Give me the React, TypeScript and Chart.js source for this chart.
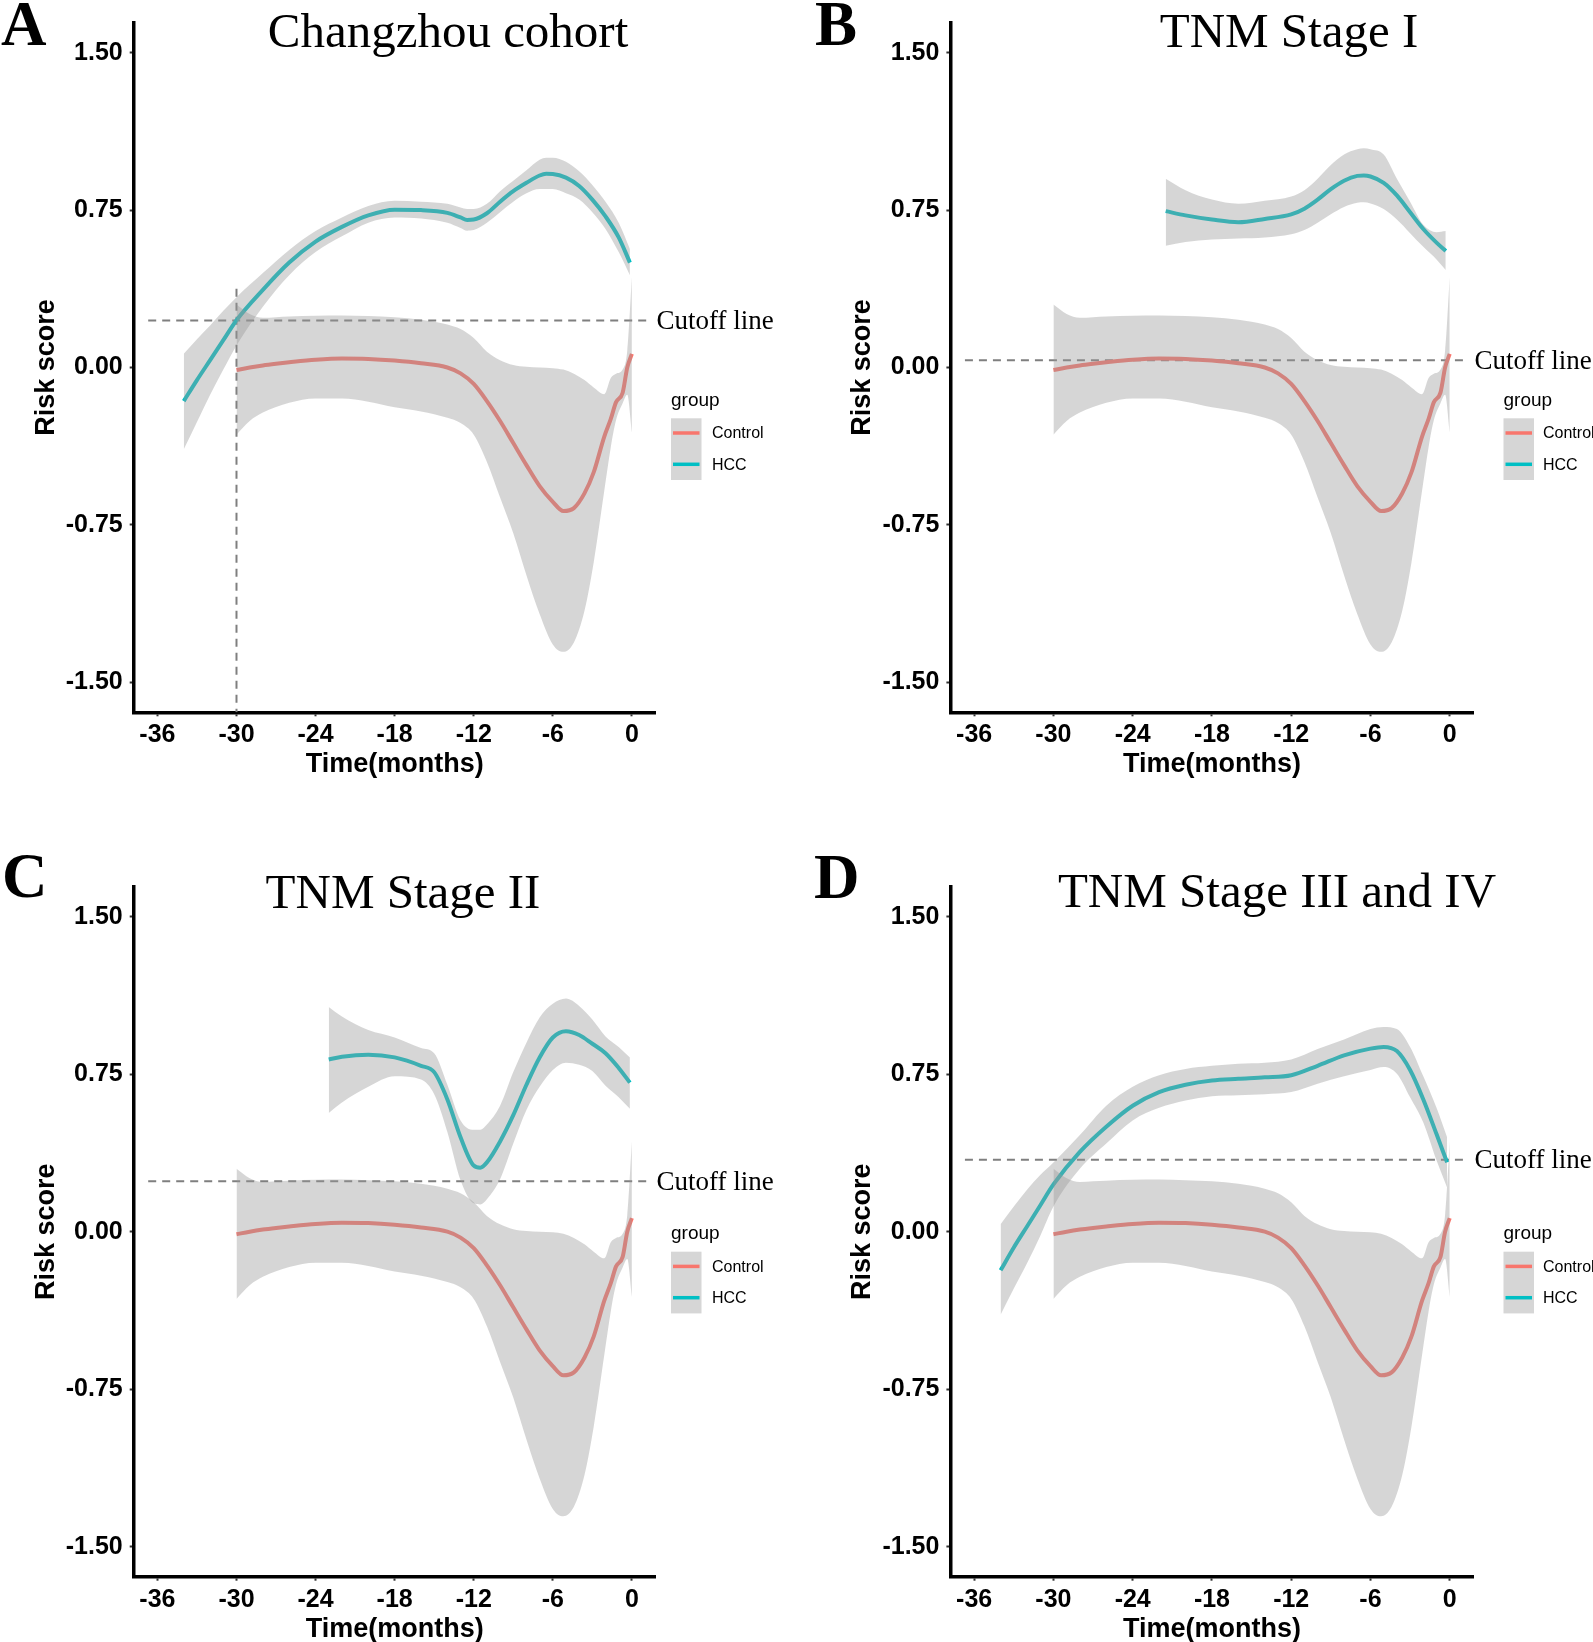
import React, { useEffect, useRef } from "react";
import { Chart, registerables } from "chart.js";
Chart.register(...registerables);

// ---------- axes ----------
const X_TICKS = [-36, -30, -24, -18, -12, -6, 0];
const Y_TICKS = [-1.5, -0.75, 0, 0.75, 1.5];
const X_MIN = -37.8;
const X_MAX = 1.8;
const Y_MIN = -1.643;
const Y_MAX = 1.643;

// ---------- Control group (same in all panels) ----------
const controlMonths = [-30, -29, -28, -27, -26, -24, -22, -20, -18, -16, -14, -13, -12, -11, -10, -9, -8, -7, -6, -5.2, -4.4, -3.6, -2.9, -2.1, -1.6, -1.2, -0.7, -0.35, 0];
const controlFit = [-0.012, 0.0, 0.01, 0.018, 0.025, 0.037, 0.043, 0.041, 0.033, 0.02, 0.0, -0.028, -0.078, -0.16, -0.255, -0.36, -0.465, -0.565, -0.64, -0.684, -0.67, -0.6, -0.5, -0.33, -0.245, -0.165, -0.12, 0.0, 0.065];
const controlUpper = [0.3, 0.255, 0.237, 0.24, 0.243, 0.247, 0.248, 0.245, 0.24, 0.228, 0.205, 0.183, 0.14, 0.075, 0.035, 0.012, 0.003, 0.0, -0.003, -0.01, -0.03, -0.06, -0.095, -0.127, -0.05, -0.03, -0.01, 0.08, 0.43];
const controlLower = [-0.32, -0.255, -0.215, -0.188, -0.168, -0.148, -0.148, -0.163, -0.19, -0.21, -0.24, -0.265, -0.32, -0.45, -0.62, -0.79, -0.99, -1.175, -1.32, -1.355, -1.31, -1.16, -0.93, -0.59, -0.38, -0.25, -0.17, -0.13, -0.31];

// ---------- HCC, panel A (Changzhou cohort) ----------
const hccAMonths = [-34, -33, -32, -31, -30, -28, -26, -24, -22, -20, -18, -16, -14, -13, -12.5, -12, -11, -10, -9, -8, -7, -6.5, -6, -5, -4, -3, -2, -1, -0.15];
const hccAFit = [-0.16, -0.06, 0.035, 0.13, 0.225, 0.37, 0.5, 0.6, 0.67, 0.725, 0.752, 0.75, 0.737, 0.715, 0.703, 0.705, 0.735, 0.79, 0.84, 0.88, 0.915, 0.923, 0.922, 0.905, 0.865, 0.8, 0.72, 0.62, 0.5];
const hccAUpper = [0.065, 0.135, 0.2, 0.27, 0.335, 0.45, 0.56, 0.65, 0.715, 0.77, 0.795, 0.79, 0.78, 0.762, 0.755, 0.755, 0.78, 0.84, 0.89, 0.94, 0.99, 1.0, 1.0, 0.98, 0.935, 0.87, 0.79, 0.69, 0.565];
const hccALower = [-0.39, -0.26, -0.13, -0.01, 0.105, 0.29, 0.44, 0.55, 0.625, 0.69, 0.715, 0.71, 0.69, 0.665, 0.652, 0.655, 0.69, 0.74, 0.79, 0.83, 0.85, 0.85, 0.85, 0.83, 0.8, 0.74, 0.66, 0.55, 0.44];

// ---------- HCC, panel B (TNM Stage I) ----------
const hccBMonths = [-21.5, -20, -18, -16, -14, -12, -11, -10, -9, -8, -7, -6.5, -6, -5, -4, -3, -2, -1, -0.3];
const hccBFit = [0.745, 0.725, 0.705, 0.692, 0.708, 0.73, 0.757, 0.8, 0.85, 0.89, 0.913, 0.915, 0.91, 0.88, 0.82, 0.74, 0.66, 0.595, 0.555];
const hccBUpper = [0.9, 0.845, 0.8, 0.78, 0.795, 0.815, 0.845, 0.9, 0.965, 1.015, 1.04, 1.045, 1.04, 1.015, 0.9, 0.79, 0.68, 0.645, 0.65];
const hccBLower = [0.58, 0.598, 0.61, 0.615, 0.62, 0.635, 0.655, 0.69, 0.73, 0.765, 0.785, 0.787, 0.782, 0.755, 0.705, 0.64, 0.575, 0.515, 0.465];

// ---------- HCC, panel C (TNM Stage II) ----------
const hccCMonths = [-23, -22, -20, -18, -16, -15, -14, -13, -12, -11.5, -11, -10, -9, -8, -7, -6, -5, -4, -3, -2, -1, -0.15];
const hccCFit = [0.82, 0.833, 0.843, 0.83, 0.79, 0.76, 0.63, 0.45, 0.315, 0.305, 0.33, 0.43, 0.555, 0.7, 0.83, 0.925, 0.955, 0.937, 0.895, 0.85, 0.78, 0.71];
const hccCUpper = [1.07, 1.025, 0.96, 0.925, 0.875, 0.85, 0.7, 0.53, 0.485, 0.485, 0.51, 0.6, 0.76, 0.9, 1.02, 1.085, 1.11, 1.075, 1.01, 0.93, 0.88, 0.83];
const hccCLower = [0.565, 0.615, 0.69, 0.74, 0.725, 0.655, 0.475, 0.245, 0.135, 0.13, 0.155, 0.25, 0.42, 0.58, 0.69, 0.77, 0.805, 0.795, 0.765, 0.695, 0.64, 0.585];

// ---------- HCC, panel D (TNM Stage III and IV) ----------
const hccDMonths = [-34, -33, -32, -31, -30, -28, -26, -24, -22, -20, -18, -16, -14, -12, -10, -8, -6, -5, -4, -3, -2, -1, -0.2];
const hccDFit = [-0.184, -0.075, 0.025, 0.125, 0.225, 0.38, 0.5, 0.6, 0.665, 0.7, 0.72, 0.728, 0.735, 0.745, 0.79, 0.84, 0.872, 0.88, 0.86, 0.77, 0.63, 0.465, 0.33];
const hccDUpper = [0.035, 0.12, 0.2, 0.27, 0.33, 0.46, 0.6, 0.69, 0.745, 0.775, 0.79, 0.8, 0.805, 0.82, 0.87, 0.915, 0.965, 0.975, 0.965, 0.88, 0.74, 0.59, 0.45];
const hccDLower = [-0.395, -0.27, -0.15, -0.02, 0.12, 0.3, 0.42, 0.53, 0.59, 0.625, 0.645, 0.65, 0.655, 0.665, 0.705, 0.74, 0.77, 0.784, 0.752, 0.64, 0.52, 0.34, 0.21];

// ---------- cutoffs ----------
const cutoffA = 0.224;
const cutoffB = 0.035;
const cutoffC = 0.24;
const cutoffD = 0.343;
const cutoffSpan = [-36.7, 1.2];
const vlineA = { month: -30, top: 0.375 };

const groupLabels = ["Control", "HCC"];
const titles = ["Changzhou cohort", "TNM Stage I", "TNM Stage II", "TNM Stage III and IV"];
const letters = ["A", "B", "C", "D"];

const RED = "#F8766D";
const TEAL = "#00BFC4";
const RIBBON = "rgba(153,153,153,0.4)";
const DASH = "#7f7f7f";

const zip = (xs: number[], ys: number[]) => xs.map((x, i) => ({ x, y: ys[i] }));

type Spec = {
  cl: number; ct: number; w: number; h: number;
  pl: number; pr: number; pt: number; pb: number;
  title: string; tx: number; ty: number;
  letter: string; lx: number; ly: number;
  gx: number; gy: number; glab: number;
  months: number[]; fit: number[]; upper: number[]; lower: number[];
  cutoff: number; vline: boolean;
};

const specs: Spec[] = [
  { cl: 0, ct: 0, w: 800, h: 840, pl: 133.7, pr: 655.6, pt: 22.7, pb: 712.3, title: titles[0], tx: 448, ty: 46.7, letter: letters[0], lx: 1, ly: 45, gx: 671, gy: 418.3, glab: 41, months: hccAMonths, fit: hccAFit, upper: hccAUpper, lower: hccALower, cutoff: cutoffA, vline: true },
  { cl: 800, ct: 0, w: 793, h: 840, pl: 950.4, pr: 1473.5, pt: 22.7, pb: 712.3, title: titles[1], tx: 1289, ty: 46.7, letter: letters[1], lx: 815, ly: 45, gx: 1503.5, gy: 418.3, glab: 39.5, months: hccBMonths, fit: hccBFit, upper: hccBUpper, lower: hccBLower, cutoff: cutoffB, vline: false },
  { cl: 0, ct: 840, w: 800, h: 802, pl: 133.7, pr: 655.6, pt: 886.7, pb: 1576.7, title: titles[2], tx: 403, ty: 908, letter: letters[2], lx: 2, ly: 897, gx: 671, gy: 1251.7, glab: 41, months: hccCMonths, fit: hccCFit, upper: hccCUpper, lower: hccCLower, cutoff: cutoffC, vline: false },
  { cl: 800, ct: 840, w: 793, h: 802, pl: 950.4, pr: 1473.5, pt: 886.7, pb: 1576.7, title: titles[3], tx: 1277, ty: 907, letter: letters[3], lx: 814, ly: 898, gx: 1503.5, gy: 1251.7, glab: 39.5, months: hccDMonths, fit: hccDFit, upper: hccDUpper, lower: hccDLower, cutoff: cutoffD, vline: false },
];

function Panel({ s }: { s: Spec }) {
  const ref = useRef<HTMLCanvasElement>(null);
  useEffect(() => {
    const base = { pointRadius: 0, pointHoverRadius: 0, cubicInterpolationMode: "monotone" as const };
    const datasets: any[] = [
      { ...base, data: zip(controlMonths, controlUpper), borderWidth: 0, borderColor: "transparent", backgroundColor: RIBBON, fill: "+1" },
      { ...base, data: zip(controlMonths, controlLower), borderWidth: 0, borderColor: "transparent", fill: false },
      { ...base, data: zip(s.months, s.upper), borderWidth: 0, borderColor: "transparent", backgroundColor: RIBBON, fill: "+1" },
      { ...base, data: zip(s.months, s.lower), borderWidth: 0, borderColor: "transparent", fill: false },
      { ...base, label: groupLabels[0], data: zip(controlMonths, controlFit), borderColor: RED, borderWidth: 4, fill: false },
      { ...base, label: groupLabels[1], data: zip(s.months, s.fit), borderColor: TEAL, borderWidth: 4, fill: false },
      { pointRadius: 0, data: [{ x: cutoffSpan[0], y: s.cutoff }, { x: cutoffSpan[1], y: s.cutoff }], borderColor: DASH, borderWidth: 2, borderDash: [8, 6], fill: false, tension: 0 },
    ];
    if (s.vline) {
      datasets.push({ pointRadius: 0, data: [{ x: vlineA.month, y: vlineA.top }, { x: vlineA.month, y: Y_MIN }], borderColor: DASH, borderWidth: 2, borderDash: [8, 6], fill: false, tension: 0 });
    }

    const textPlugin = {
      id: "panelText",
      afterDraw(chart: any) {
        const ctx = chart.ctx as CanvasRenderingContext2D;
        const ox = s.cl, oy = s.ct;
        ctx.save();
        ctx.fillStyle = "#000";
        ctx.textBaseline = "alphabetic";
        // letter
        ctx.textAlign = "left";
        ctx.font = 'bold 63px "Liberation Serif"';
        ctx.fillText(s.letter, s.lx - ox, s.ly - oy);
        // title
        ctx.textAlign = "center";
        ctx.font = '49px "Liberation Serif"';
        ctx.fillText(s.title, s.tx - ox, s.ty - oy);
        // x title
        ctx.font = 'bold 27px "Liberation Sans"';
        ctx.fillText("Time(months)", (s.pl + s.pr) / 2 - ox, s.pb + 60 - oy);
        // y title
        ctx.save();
        ctx.translate(s.pl - 80 - ox, (s.pt + s.pb) / 2 - oy);
        ctx.rotate(-Math.PI / 2);
        ctx.fillText("Risk score", 0, 0);
        ctx.restore();
        // cutoff label
        const yc = chart.scales.y.getPixelForValue(s.cutoff);
        ctx.textAlign = "left";
        ctx.font = '27px "Liberation Serif"';
        ctx.fillText("Cutoff line", s.pr - ox + 1, yc + 8.5);
        // legend
        const gx = s.gx - ox, gy = s.gy - oy;
        ctx.font = '19px "Liberation Sans"';
        ctx.fillText("group", gx, gy - 12.3);
        ctx.fillStyle = RIBBON;
        ctx.fillRect(gx, gy, 30.5, 61.7);
        const rows = [
          { label: groupLabels[0], color: RED, y: gy + 14.7 },
          { label: groupLabels[1], color: TEAL, y: gy + 46 },
        ];
        ctx.lineWidth = 3.5;
        ctx.font = '16px "Liberation Sans"';
        ctx.textBaseline = "middle";
        for (const r of rows) {
          ctx.strokeStyle = r.color;
          ctx.beginPath();
          ctx.moveTo(gx + 2, r.y);
          ctx.lineTo(gx + 28.5, r.y);
          ctx.stroke();
          ctx.fillStyle = "#000";
          ctx.fillText(r.label, gx + s.glab, r.y + 1);
        }
        ctx.restore();
      },
    };

    const tickFont = { family: "Liberation Sans", size: 25, weight: "bold" as const };
    const chart = new Chart(ref.current!, {
      type: "line",
      data: { datasets },
      options: {
        animation: false,
        responsive: false,
        devicePixelRatio: 1,
        events: [],
        layout: { padding: { left: 0, top: s.pt - s.ct, right: s.cl + s.w - s.pr, bottom: 0 } },
        plugins: { legend: { display: false }, tooltip: { enabled: false }, title: { display: false } },
        scales: {
          x: {
            type: "linear",
            min: X_MIN,
            max: X_MAX,
            afterBuildTicks: (sc: any) => { sc.ticks = X_TICKS.map((v) => ({ value: v })); },
            afterFit: (sc: any) => { sc.height = s.ct + s.h - s.pb; },
            ticks: { font: tickFont, color: "#000", padding: 4, autoSkip: false, maxRotation: 0, callback: (v: any) => String(v) },
            grid: { display: true, drawOnChartArea: false, drawTicks: true, tickLength: 4, tickWidth: 2, tickColor: "#333", color: "#333" },
            border: { display: true, color: "#000", width: 3.5 },
          },
          y: {
            type: "linear",
            min: Y_MIN,
            max: Y_MAX,
            afterBuildTicks: (sc: any) => { sc.ticks = Y_TICKS.map((v) => ({ value: v })); },
            afterFit: (sc: any) => { sc.width = s.pl - s.cl; },
            ticks: { font: tickFont, color: "#000", padding: 7, autoSkip: false, callback: (v: any) => Number(v).toFixed(2) },
            grid: { display: true, drawOnChartArea: false, drawTicks: true, tickLength: 4, tickWidth: 2, tickColor: "#333", color: "#333" },
            border: { display: true, color: "#000", width: 3.5 },
          },
        },
      } as any,
      plugins: [textPlugin],
    });
    return () => chart.destroy();
  }, []);
  return (
    <canvas
      ref={ref}
      width={s.w}
      height={s.h}
      style={{ position: "absolute", left: s.cl, top: s.ct, width: s.w, height: s.h }}
    />
  );
}

export default function App() {
  return (
    <div style={{ position: "absolute", left: 0, top: 0, width: 1593, height: 1642, background: "#fff", overflow: "hidden" }}>
      {specs.map((s) => (
        <Panel key={s.letter} s={s} />
      ))}
    </div>
  );
}
